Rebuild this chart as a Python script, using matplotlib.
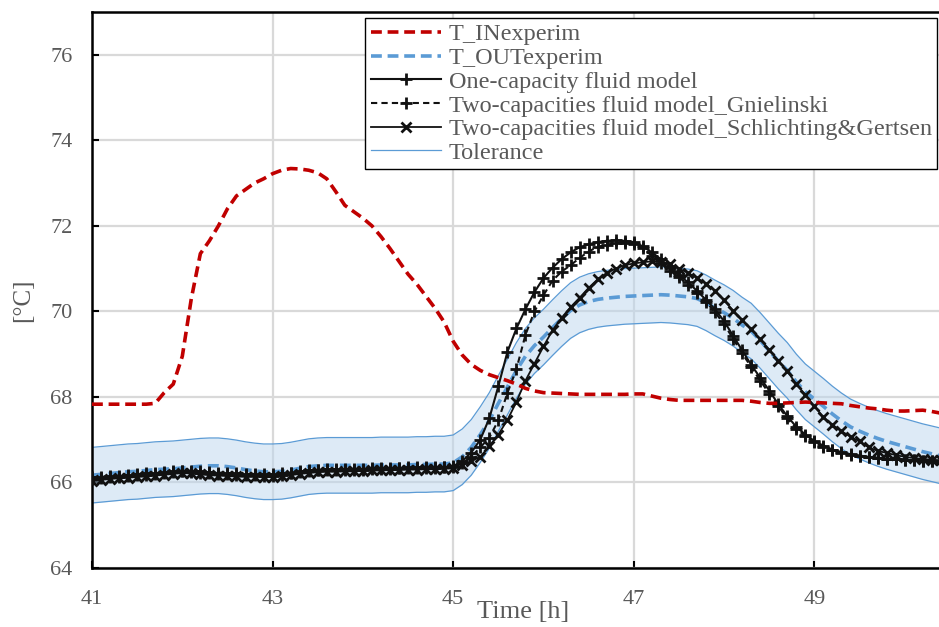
import numpy as np
import matplotlib
matplotlib.use("Agg")
from matplotlib import pyplot as plt

# time axis [h], one sample every 0.1 h
time_h = np.round(np.arange(41.0, 50.41, 0.1), 1)

# inlet temperature, experiment [°C]
t_in = [67.83, 67.83, 67.83, 67.83, 67.83, 67.83, 67.83, 67.85, 68.10, 68.30,
        68.95, 70.30, 71.35, 71.65, 72.00, 72.40, 72.70, 72.85, 73.00, 73.10,
        73.22, 73.30, 73.34, 73.33, 73.30, 73.24, 73.10, 72.80, 72.48, 72.33,
        72.18, 72.00, 71.75, 71.47, 71.17, 70.87, 70.63, 70.35, 70.07, 69.75,
        69.30, 68.98, 68.76, 68.62, 68.52, 68.45, 68.38, 68.30, 68.20, 68.14,
        68.10, 68.09, 68.08, 68.07, 68.06, 68.06, 68.06, 68.06, 68.06, 68.06,
        68.07, 68.07, 68.02, 67.97, 67.94, 67.92, 67.92, 67.92, 67.92, 67.92,
        67.92, 67.92, 67.92, 67.90, 67.87, 67.85, 67.85, 67.86, 67.87, 67.88,
        67.87, 67.86, 67.85, 67.84, 67.80, 67.77, 67.74, 67.72, 67.69, 67.67,
        67.67, 67.68, 67.69, 67.66, 67.62]

# outlet temperature, experiment [°C]
t_out = [66.17, 66.19, 66.21, 66.23, 66.25, 66.26, 66.28, 66.30, 66.31, 66.32,
         66.34, 66.36, 66.38, 66.39, 66.39, 66.37, 66.34, 66.30, 66.27, 66.25,
         66.25, 66.26, 66.29, 66.33, 66.37, 66.39, 66.40, 66.40, 66.40, 66.40,
         66.40, 66.40, 66.41, 66.41, 66.41, 66.41, 66.42, 66.42, 66.43, 66.43,
         66.46, 66.60, 66.82, 67.12, 67.45, 67.85, 68.23, 68.62, 68.95, 69.20,
         69.40, 69.62, 69.83, 70.02, 70.15, 70.23, 70.28, 70.31, 70.33, 70.35,
         70.36, 70.37, 70.38, 70.39, 70.38, 70.36, 70.34, 70.30, 70.20, 70.08,
         69.97, 69.84, 69.68, 69.54, 69.32, 69.08, 68.84, 68.62, 68.35, 68.12,
         67.95, 67.78, 67.60, 67.44, 67.30, 67.20, 67.11, 67.03, 66.96, 66.90,
         66.84, 66.78, 66.72, 66.67, 66.62]

# measurement tolerance [K]
tol = 0.65

# one-capacity fluid model [°C]
one_cap = [66.08, 66.10, 66.12, 66.13, 66.15, 66.17, 66.18, 66.19, 66.22, 66.24,
           66.26, 66.25, 66.23, 66.21, 66.20, 66.19, 66.18, 66.17, 66.17, 66.16,
           66.16, 66.18, 66.21, 66.24, 66.26, 66.28, 66.29, 66.29, 66.29, 66.30,
           66.30, 66.31, 66.32, 66.32, 66.33, 66.33, 66.33, 66.34, 66.34, 66.35,
           66.38, 66.50, 66.70, 67.00, 67.50, 68.25, 69.05, 69.60, 70.05, 70.45,
           70.78, 71.02, 71.22, 71.38, 71.50, 71.57, 71.62, 71.65, 71.66, 71.65,
           71.62, 71.52, 71.38, 71.22, 71.02, 70.85, 70.68, 70.48, 70.27, 70.05,
           69.77, 69.43, 69.09, 68.75, 68.45, 68.15, 67.83, 67.55, 67.30, 67.12,
           66.97, 66.86, 66.77, 66.71, 66.66, 66.63, 66.60, 66.58, 66.56, 66.54,
           66.53, 66.52, 66.51, 66.50, 66.49]

# two-capacities fluid model, Gnielinski [°C]
two_cap_gn = [66.12, 66.13, 66.15, 66.16, 66.18, 66.20, 66.21, 66.22, 66.24, 66.26,
              66.27, 66.27, 66.26, 66.24, 66.23, 66.22, 66.21, 66.20, 66.20, 66.19,
              66.19, 66.21, 66.23, 66.26, 66.28, 66.30, 66.31, 66.31, 66.31, 66.32,
              66.32, 66.33, 66.33, 66.34, 66.34, 66.35, 66.35, 66.35, 66.36, 66.36,
              66.36, 66.45, 66.60, 66.82, 67.05, 67.45, 68.09, 68.65, 69.45, 70.00,
              70.38, 70.72, 70.93, 71.08, 71.25, 71.40, 71.51, 71.56, 71.60, 71.61,
              71.58, 71.48, 71.30, 71.12, 70.95, 70.80, 70.62, 70.43, 70.22, 69.98,
              69.70, 69.36, 69.02, 68.70, 68.38, 68.08, 67.78, 67.50, 67.26, 67.08,
              66.94, 66.83, 66.75, 66.69, 66.65, 66.62, 66.59, 66.57, 66.55, 66.54,
              66.53, 66.52, 66.51, 66.50, 66.49]

# two-capacities fluid model, Schlichting & Gertsen [°C]
two_cap_sg = [66.04, 66.06, 66.08, 66.10, 66.11, 66.13, 66.14, 66.16, 66.18, 66.20,
              66.22, 66.21, 66.19, 66.17, 66.16, 66.15, 66.14, 66.13, 66.13, 66.13,
              66.13, 66.15, 66.17, 66.20, 66.22, 66.24, 66.25, 66.25, 66.26, 66.26,
              66.27, 66.28, 66.28, 66.29, 66.29, 66.30, 66.30, 66.31, 66.31, 66.32,
              66.33, 66.40, 66.50, 66.60, 66.85, 67.12, 67.46, 67.88, 68.38, 68.78,
              69.18, 69.56, 69.85, 70.10, 70.32, 70.55, 70.75, 70.90, 71.00, 71.08,
              71.12, 71.15, 71.17, 71.16, 71.10, 71.00, 70.90, 70.78, 70.65, 70.48,
              70.26, 70.02, 69.80, 69.58, 69.35, 69.10, 68.85, 68.60, 68.30, 68.05,
              67.78, 67.53, 67.35, 67.20, 67.07, 66.96, 66.82, 66.74, 66.69, 66.64,
              66.60, 66.57, 66.55, 66.53, 66.52]

x_ticks = [41, 43, 45, 47, 49]
y_ticks = [64, 66, 68, 70, 72, 74, 76]

txt_gray = '#595959'
plt.rcParams['font.family'] = ['Liberation Serif', 'DejaVu Serif']

fig = plt.figure(figsize=(9.39, 6.27), dpi=100)
ax = fig.add_axes([92/939, 1 - 568/627, 1 - 92/939, (568 - 12)/627])

t_out_a = np.array(t_out)
ax.fill_between(time_h, t_out_a - tol, t_out_a + tol, color='#BDD7EE', alpha=0.5,
                linewidth=0, zorder=1)
ax.plot(time_h, t_out_a + tol, color='#5B9BD5', lw=0.9, zorder=2, label='Tolerance')
ax.plot(time_h, t_out_a - tol, color='#5B9BD5', lw=0.9, zorder=2)

ax.plot(time_h, t_out, color='#5B9BD5', lw=2.6, ls=(0, (3, 1.6)), zorder=3,
        label='T_OUTexperim')
ax.plot(time_h, one_cap, color='#111111', lw=1.5, marker='+', ms=9, mew=2,
        zorder=4, label='One-capacity fluid model')
ax.plot(time_h, two_cap_gn, color='#111111', lw=1.5, ls=(0, (3, 2)), marker='+',
        ms=9, mew=2, zorder=4, label='Two-capacities fluid model_Gnielinski')
ax.plot(time_h, two_cap_sg, color='#111111', lw=1.3, marker='x', ms=6.5, mew=2,
        zorder=4, label='Two-capacities fluid model_Schlichting&Gertsen')
ax.plot(time_h, t_in, color='#C00000', lw=2.6, ls=(0, (3, 1.6)), zorder=5,
        label='T_INexperim')

ax.set_xlim(41, 50.38)
ax.set_ylim(64, 77)
ax.set_xticks(x_ticks)
ax.set_yticks(y_ticks)
ax.grid(True, color='#D9D9D9', lw=1.6, zorder=0)
ax.set_axisbelow(True)

for s in ['left', 'bottom', 'top']:
    ax.spines[s].set_linewidth(1.8)
    ax.spines[s].set_color('black')
ax.spines['right'].set_visible(False)
ax.tick_params(direction='in', length=5, width=1.5, colors='black',
               labelcolor=txt_gray, labelsize=16, pad=14)
ax.tick_params(axis='x', pad=16)

ax.set_xlabel('Time [h]', fontsize=19, color=txt_gray)
ax.xaxis.set_label_coords(0.509, -0.06)
ax.set_ylabel('[°C]', fontsize=18, color=txt_gray)
ax.yaxis.set_label_coords(-0.068, 0.482)

# legend in the order of the original chart
h, l = ax.get_legend_handles_labels()
order = ['T_INexperim', 'T_OUTexperim', 'One-capacity fluid model',
         'Two-capacities fluid model_Gnielinski',
         'Two-capacities fluid model_Schlichting&Gertsen', 'Tolerance']
hd = dict(zip(l, h))
leg = ax.legend([hd[k] for k in order], order, loc='upper right',
                bbox_to_anchor=(937/939, 1 - 18/627), bbox_transform=fig.transFigure,
                borderaxespad=0, fontsize=17.5, labelcolor=txt_gray, fancybox=False,
                framealpha=1, edgecolor='black', handlelength=2.9, handletextpad=0.3,
                labelspacing=0.07, borderpad=0.22, numpoints=1)
leg.get_frame().set_linewidth(1.0)
leg.set_zorder(10)

fig.savefig('out.png', dpi=100)
